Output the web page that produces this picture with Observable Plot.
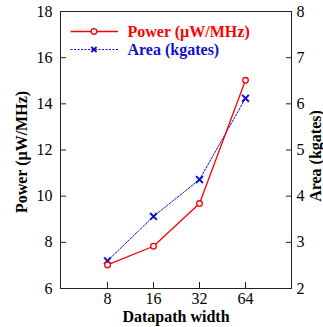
<!DOCTYPE html>
<html>
<head>
<meta charset="utf-8">
<script src="https://cdn.jsdelivr.net/npm/d3@7"></script>
<script src="https://cdn.jsdelivr.net/npm/@observablehq/plot@0.6"></script>
<style>
html, body { margin: 0; padding: 0; background: #fff; }
svg text { font-family: "Liberation Serif", "DejaVu Serif", serif !important; }
</style>
</head>
<body>
<div id="chart"></div>
<script>
const widths = ["8", "16", "32", "64"];
const power = [7.02, 7.83, 9.68, 15.02];
const area = [2.60, 3.56, 4.36, 6.12];
const powerTicks = [6, 8, 10, 12, 14, 16, 18];
const areaTicks = [2, 3, 4, 5, 6, 7, 8];
const xLabel = "Datapath width";
const yLabelLeft = "Power (\u00b5W/MHz)";
const yLabelRight = "Area (kgates)";
const seriesNames = ["Power (\u00b5W/MHz)", "Area (kgates)"];

const RED = "#ff0000";
const BLUE = "#1010d0";
const FONT = '"Liberation Serif", "DejaVu Serif", serif';

// map area onto the power scale (area 2..8 <-> power 6..18)
const areaToPower = a => 6 + (a - 2) * 2;
const powerToArea = p => (p - 6) / 2 + 2;

const powerData = widths.map((w, i) => ({w, v: power[i]}));
const areaData = widths.map((w, i) => ({w, v: areaToPower(area[i])}));

const chart = Plot.plot({
  width: 323,
  height: 327,
  marginLeft: 60,
  marginRight: 32,
  marginTop: 11,
  marginBottom: 39,
  style: {fontFamily: FONT, fontSize: "16px", color: "#000", background: "#fff"},
  x: {type: "point", domain: widths, padding: 1, label: null},
  y: {domain: [6, 18], label: null},
  marks: [
    Plot.frame({stroke: "#222"}),
    Plot.axisX({tickSize: -6, tickPadding: 10, label: null, stroke: "#222", fontSize: 16}),
    Plot.axisY({ticks: powerTicks, tickSize: -6, tickPadding: 14, label: null, stroke: "#222", fontSize: 16}),
    Plot.axisY({anchor: "right", ticks: areaTicks.map(areaToPower), tickFormat: powerToArea, tickSize: -6, tickPadding: 11, label: null, stroke: "#222", fontSize: 16}),
    Plot.line(areaData, {x: "w", y: "v", stroke: BLUE, strokeWidth: 1, strokeDasharray: "2,1.5"}),
    Plot.dot(areaData, {x: "w", y: "v", symbol: "times", r: 3.2, stroke: BLUE, strokeWidth: 2}),
    Plot.line(powerData, {x: "w", y: "v", stroke: RED, strokeWidth: 1.3}),
    Plot.dot(powerData, {x: "w", y: "v", symbol: "circle", r: 2.8, stroke: RED, fill: "#fff", strokeWidth: 1.3})
  ]
});

const svg = d3.select(chart);

// axis titles
const titles = svg.append("g").attr("font-family", FONT).attr("font-size", 16)
  .attr("font-weight", "bold").attr("fill", "#000").attr("text-anchor", "middle");
titles.append("text").attr("x", 176).attr("y", 322).text(xLabel);
titles.append("text").attr("transform", "translate(21,152) rotate(-90)").attr("dy", "0.35em").text(yLabelLeft);
titles.append("text").attr("transform", "translate(315,156) rotate(-90)").attr("dy", "0.35em").text(yLabelRight);

// legend inside the plot frame
const lg = svg.append("g").attr("font-family", FONT)
  .attr("font-size", 16).attr("font-weight", "bold").attr("text-anchor", "start");
const rows = [
  {name: seriesNames[0], color: RED, dash: null, y: 31.5, marker: "circle"},
  {name: seriesNames[1], color: BLUE, dash: "2,1.5", y: 49.5, marker: "x"}
];
rows.forEach(r => {
  lg.append("line").attr("x1", 70.5).attr("x2", 118).attr("y1", r.y).attr("y2", r.y)
    .attr("stroke", r.color).attr("stroke-width", r.marker === "circle" ? 1.3 : 1)
    .attr("stroke-dasharray", r.dash);
  if (r.marker === "circle") {
    lg.append("circle").attr("cx", 94).attr("cy", r.y).attr("r", 2.8)
      .attr("fill", "#fff").attr("stroke", r.color).attr("stroke-width", 1.3);
  } else {
    const s = 2.6;
    lg.append("path").attr("d", `M${94 - s},${r.y - s}L${94 + s},${r.y + s}M${94 - s},${r.y + s}L${94 + s},${r.y - s}`)
      .attr("stroke", r.color).attr("stroke-width", 2);
  }
  lg.append("text").attr("x", 127.5).attr("y", r.y + 5.5).attr("fill", r.color).text(r.name);
});

document.getElementById("chart").appendChild(chart);
</script>
</body>
</html>
